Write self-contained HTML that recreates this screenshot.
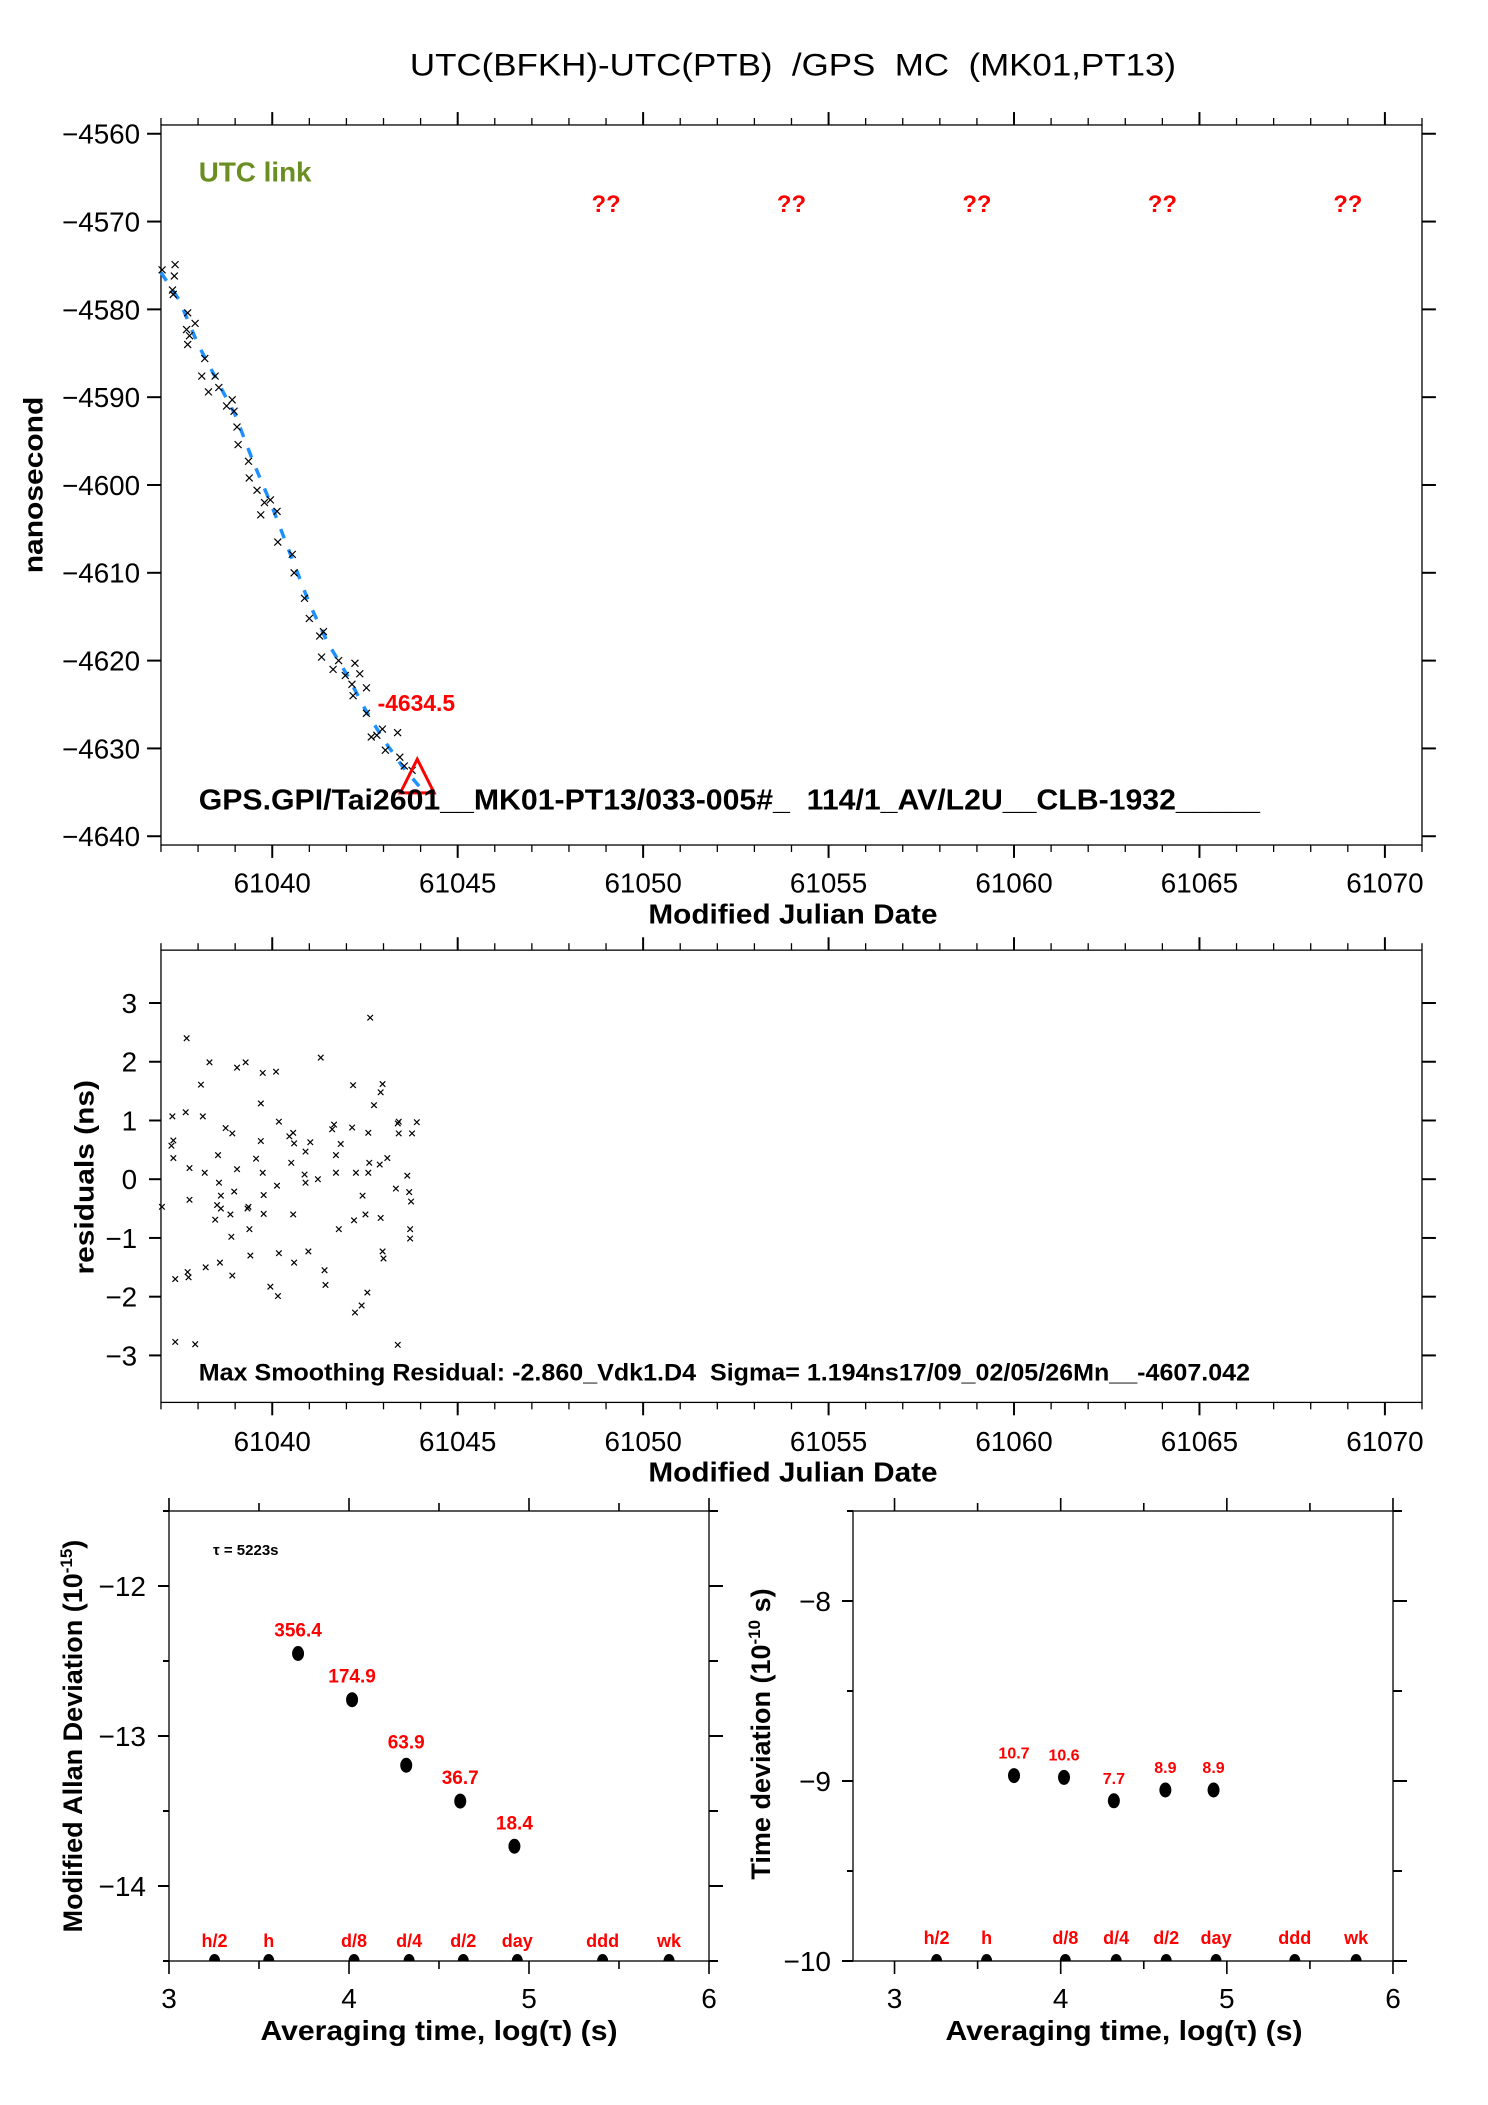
<!DOCTYPE html>
<html><head><meta charset="utf-8"><style>
html,body{margin:0;padding:0;background:#fff}
svg{display:block}
text{font-family:"Liberation Sans",Arial,sans-serif;white-space:pre}
</style></head><body>
<svg id="chart" width="1488" height="2105" viewBox="0 0 1488 2105" xmlns="http://www.w3.org/2000/svg">
<defs>
<clipPath id="clipA"><rect x="169" y="1511" width="540" height="450"/></clipPath>
<clipPath id="clipT"><rect x="853" y="1511" width="540" height="450"/></clipPath>
</defs>
<g id="top" transform="scale(0.9937,0.9918)"></g>
<g id="root"></g>
</svg>
<script>
// ---------- data: plot 1 (UTC link) ----------
const linkMjd = [61037.03,61037.31,61037.38,61037.36,61037.33,61037.72,61037.69,61037.77,61037.72,61037.92,61038.18,61038.10,61038.28,61038.46,61038.56,61038.77,61038.92,61038.97,61039.05,61039.08,61039.36,61039.38,61039.59,61039.69,61039.79,61039.95,61040.13,61040.15,61040.54,61040.59,61040.87,61041.00,61041.28,61041.38,61041.33,61041.64,61041.79,61041.97,61042.15,61042.23,61042.36,61042.18,61042.54,61042.54,61042.67,61042.82,61042.97,61043.05,61043.38,61043.44,61043.56,61043.77];
const linkVal = [-4575.5,-4577.8,-4574.9,-4576.2,-4578.3,-4580.4,-4582.3,-4583.0,-4584.0,-4581.6,-4585.6,-4587.6,-4589.4,-4587.6,-4588.9,-4591.0,-4590.3,-4591.6,-4593.4,-4595.4,-4597.3,-4599.2,-4600.6,-4603.4,-4602.0,-4601.7,-4603.0,-4606.5,-4607.9,-4610.0,-4612.9,-4615.2,-4617.2,-4616.7,-4619.6,-4621.0,-4620.0,-4621.7,-4622.7,-4620.3,-4621.5,-4624.0,-4623.1,-4626.0,-4628.7,-4628.5,-4627.8,-4630.2,-4628.2,-4631.0,-4632.0,-4632.5];
const trendMjd = [61037.0,61037.5,61038.0,61038.5,61039.0,61039.5,61040.0,61040.5,61041.0,61041.5,61042.0,61042.5,61043.0,61043.5,61044.0];
const trendVal = [-4575.8,-4579.0,-4584.0,-4588.0,-4592.0,-4597.5,-4602.5,-4608.0,-4613.5,-4618.0,-4621.5,-4625.5,-4629.0,-4632.0,-4634.5];
const qMjd = [61049,61054,61059,61064,61069];
const p1XTicks = [61040,61045,61050,61055,61060,61065,61070];
const p1YTicks = [-4560,-4570,-4580,-4590,-4600,-4610,-4620,-4630,-4640];
const lastMjd = 61043.91;
const lastVal = -4634.5;

// ---------- data: plot 2 (residuals) ----------
const resX = [172,183,182,184,184,186,186,198,197,199,200,201,201,207,213,215,217,218,222,228,230,231,232,233,234,234,239,244,245,246,246,248,251,251,260,262,263,264,265,271,276,276,278,279,279,278,286,292,293,294,295,295,306,308,310,311,311,310,322,323,323,326,328,336,339,343,344,351,353,355,355,358,360,372,373,374,375,376,382,383,386,388,389,389,390,391,395,401,402,402,404,404,405,409,418,420,420,421,421,430,432,433,433,434,435,440];
const resVal = [-0.47,1.07,0.57,0.66,0.36,-1.70,-2.77,2.40,1.14,-1.58,-1.67,-0.35,0.19,-2.81,1.61,1.07,0.11,-1.50,1.99,-0.69,-0.44,0.41,-0.06,-1.42,-0.28,-0.50,0.87,-0.60,-0.98,0.78,-1.64,-0.21,1.90,0.17,1.99,-0.50,-0.47,-0.85,-1.30,0.35,1.29,0.65,0.11,-0.59,-0.27,1.81,-1.83,1.83,-0.11,-1.99,0.98,-1.26,0.73,0.28,0.79,0.61,-1.42,-0.60,0.08,-0.06,0.47,-1.23,0.63,0.00,2.07,-1.55,-1.80,0.85,0.93,0.11,0.41,-0.85,0.60,0.88,1.60,-0.70,-2.27,0.11,-2.15,-0.28,-0.60,-1.93,0.11,0.79,0.28,2.75,1.26,0.25,1.48,-0.66,1.62,-1.23,-1.35,0.36,-0.16,-2.82,0.95,0.78,0.98,0.06,-0.22,-0.85,-1.01,-0.38,0.78,0.97];
const resYTicks = [3,2,1,0,-1,-2,-3];

// ---------- data: ADEV ----------
const adevLog = [3.717,4.017,4.318,4.618,4.919];
const adevVal = [-12.45,-12.758,-13.195,-13.434,-13.735];
const adevLbl = ["356.4","174.9","63.9","36.7","18.4"];
const tauLog = [3.253,3.554,4.028,4.334,4.635,4.935,5.409,5.778];
const tauLbl = ["h/2","h","d/8","d/4","d/2","day","ddd","wk"];
const adevYTicks = [-12,-13,-14];
// ---------- data: TDEV ----------
const tdevLog = [3.719,4.02,4.32,4.63,4.92];
const tdevVal = [-8.97,-8.98,-9.11,-9.05,-9.05];
const tdevLbl = ["10.7","10.6","7.7","8.9","8.9"];
const tdevYTicks = [-8,-9,-10];
const logTicks = [3,4,5,6];

const NS = "http://www.w3.org/2000/svg";
const root = document.getElementById('root');
const topG = document.getElementById('top');
function el(tag, attrs, parent, txt){
  const e = document.createElementNS(NS, tag);
  for (const k in attrs) e.setAttribute(k, attrs[k]);
  if (txt !== undefined) e.textContent = txt;
  (parent||root).appendChild(e);
  return e;
}
function lin(d0,d1,r0,r1){ return v => r0 + (v-d0)*(r1-r0)/(d1-d0); }
function cross(g,x,y,s){
  el('path',{d:`M${x-s},${y-s}L${x+s},${y+s}M${x-s},${y+s}L${x+s},${y-s}`,stroke:'#000','stroke-width':1.2,fill:'none'},g);
}

// title
let t = el('text',{x:798,y:76,'font-size':32,'text-anchor':'middle',textLength:771,lengthAdjust:'spacingAndGlyphs'},topG,'UTC(BFKH)-UTC(PTB)  /GPS  MC  (MK01,PT13)');



// ================= Plot 1 =================
(function(){
  const L=162,R=1431,T=126,B=852;
  const x = lin(61037,61071,L,R), y = lin(-4559,-4641,T,B);
  const g = el('g',{},topG);
  
  
  el('rect',{x:L,y:T,width:R-L,height:B-T,fill:'none',stroke:'#000','stroke-width':1.3},g);
  for(let m=61037;m<=61071;m++){
    const maj = m%5===0, len = maj?13:7, xx=x(m);
    el('line',{x1:xx,y1:T,x2:xx,y2:T-len,stroke:'#000','stroke-width':maj?2:1.3},g);
    el('line',{x1:xx,y1:B,x2:xx,y2:B+len,stroke:'#000','stroke-width':maj?2:1.3},g);
  }
  p1XTicks.forEach(v=>{
    const tl = el('text',{x:x(v),y:900,'font-size':28,'text-anchor':'middle'},g,String(v));
    
    
  });
  p1YTicks.forEach(v=>{
    const yy=y(v);
    el('line',{x1:L,y1:yy,x2:L-14,y2:yy,stroke:'#000','stroke-width':2},g);
    el('line',{x1:R,y1:yy,x2:R+14,y2:yy,stroke:'#000','stroke-width':2},g);
    const tl = el('text',{x:141,y:yy+10,'font-size':28,'text-anchor':'end'},g,'\u2212'+Math.abs(v));
    
    
  });
  const pts = trendMjd.map((m,i)=>x(m)+','+y(trendVal[i])).join(' ');
  const pl = el('polyline',{points:pts,fill:'none',stroke:'#1e90ff','stroke-width':3.5,'stroke-dasharray':'10,12'},g);
  
  
  const mg = el('g',{},g);
  
  
  linkMjd.forEach((m,i)=>cross(mg,x(m),y(linkVal[i]),3.5));
  qMjd.forEach(m=>{
    const q = el('text',{x:x(m),y:y(-4568)+8,'font-size':24,'font-weight':'bold',fill:'#ff0000','text-anchor':'middle'},g,'??');
    
    
  });
  const ul = el('text',{x:200,y:183,'font-size':28,'font-weight':'bold',fill:'#6b8e23'},g,'UTC link');
  
  
  const lv = el('text',{x:380,y:717,'font-size':23,'font-weight':'bold',fill:'#ff0000'},g,String(lastVal));
  
  
  const tx=x(lastMjd), by=y(lastVal)+5;
  const tri = el('path',{d:`M${tx},${by-34}L${tx-17},${by}L${tx+17},${by}Z`,fill:'none',stroke:'#ff0000','stroke-width':3},g);
  
  
  const inf = el('text',{x:200,y:816,'font-size':29,'font-weight':'bold',textLength:1068,lengthAdjust:'spacingAndGlyphs'},g,'GPS.GPI/Tai2601__MK01-PT13/033-005#_  114/1_AV/L2U__CLB-1932_____');
  
  
  const yl = el('text',{x:0,y:0,'font-size':27,'font-weight':'bold','text-anchor':'middle',transform:'translate(43,489) rotate(-90)',textLength:178,lengthAdjust:'spacingAndGlyphs'},g,'nanosecond');
  
  
  const xl = el('text',{x:798,y:931,'font-size':28,'font-weight':'bold','text-anchor':'middle',textLength:291,lengthAdjust:'spacingAndGlyphs'},g,'Modified Julian Date');
  
  
})();

// ================= Plot 2 =================
(function(){
  const L=162,R=1431,T=958,B=1414;
  const x = lin(61037,61071,L,R), y = lin(3.9,-3.8,T,B);
  const g = el('g',{},topG);
  
  
  el('rect',{x:L,y:T,width:R-L,height:B-T,fill:'none',stroke:'#000','stroke-width':1.3},g);
  for(let m=61037;m<=61071;m++){
    const maj = m%5===0, len = maj?13:7, xx=x(m);
    el('line',{x1:xx,y1:T,x2:xx,y2:T-len,stroke:'#000','stroke-width':maj?2:1.3},g);
    el('line',{x1:xx,y1:B,x2:xx,y2:B+len,stroke:'#000','stroke-width':maj?2:1.3},g);
  }
  p1XTicks.forEach(v=>{
    const tl = el('text',{x:x(v),y:1463,'font-size':28,'text-anchor':'middle'},g,String(v));
    
    
  });
  resYTicks.forEach(v=>{
    const yy=y(v);
    el('line',{x1:L,y1:yy,x2:L-12,y2:yy,stroke:'#000','stroke-width':2},g);
    el('line',{x1:R,y1:yy,x2:R+14,y2:yy,stroke:'#000','stroke-width':2},g);
    const tl = el('text',{x:138,y:yy+10,'font-size':28,'text-anchor':'end'},g,(v<0?'\u2212':'')+Math.abs(v));
    
    
  });
  const mg = el('g',{},g);
  
  
  resX.forEach((px,i)=>{
    const m = 61040 + (px-288)/39;
    cross(mg,x(m),y(resVal[i]),2.8);
  });
  const inf = el('text',{x:200,y:1392,'font-size':24,'font-weight':'bold',textLength:1058,lengthAdjust:'spacingAndGlyphs'},g,'Max Smoothing Residual: -2.860_Vdk1.D4  Sigma= 1.194ns17/09_02/05/26Mn__-4607.042');
  
  
  const yl = el('text',{x:0,y:0,'font-size':27,'font-weight':'bold','text-anchor':'middle',transform:'translate(94,1187) rotate(-90)',textLength:196,lengthAdjust:'spacingAndGlyphs'},g,'residuals (ns)');
  
  
  const xl = el('text',{x:798,y:1494,'font-size':28,'font-weight':'bold','text-anchor':'middle',textLength:291,lengthAdjust:'spacingAndGlyphs'},g,'Modified Julian Date');
  
  
})();

// ================= Lower plots =================
function devPlot(o){
  const {L,R,T,B,x0,x1,y0,y1,ticks,yLblX,clip,name} = o;
  const x = lin(x0,x1,L,R), y = lin(y1,y0,T,B);
  const g = el('g',{});
  
  
  el('rect',{x:L,y:T,width:R-L,height:B-T,fill:'none',stroke:'#000','stroke-width':1.3},g);
  for(let v=3;v<=6.001;v+=0.5){
    const xx=x(v), maj=Math.abs(v-Math.round(v))<0.01, len=maj?13:8;
    el('line',{x1:xx,y1:T,x2:xx,y2:T-len,stroke:'#000','stroke-width':1.6},g);
    el('line',{x1:xx,y1:B,x2:xx,y2:B+len,stroke:'#000','stroke-width':1.6},g);
  }
  logTicks.forEach(v=>{
    const tl = el('text',{x:x(v),y:2008,'font-size':28,'text-anchor':'middle'},g,String(v));
    
    
  });
  for(let v=y0; v<=y1+0.001; v+=0.5){
    const yy=y(v), maj=Math.abs(v-Math.round(v))<0.01, len=maj?11:6;
    el('line',{x1:L,y1:yy,x2:L-len,y2:yy,stroke:'#000','stroke-width':2},g);
    el('line',{x1:R,y1:yy,x2:R+len+3,y2:yy,stroke:'#000','stroke-width':2},g);
  }
  ticks.forEach(v=>{
    const tl = el('text',{x:yLblX,y:y(v)+10,'font-size':28,'text-anchor':'end'},g,'\u2212'+Math.abs(v));
    
    
  });
  const pg = el('g',{},g);
  
  
  o.xs.forEach((v,i)=>{
    el('ellipse',{cx:x(v),cy:y(o.ys[i]),rx:6,ry:7.5,fill:'#000'},pg);
    const lb = el('text',{x:x(v),y:y(o.ys[i])-o.lblOff,'font-size':o.lblSize,'font-weight':'bold',fill:'#ff0000','text-anchor':'middle'},pg,o.lbls[i]);
    
    
  });
  const tg = el('g',{'clip-path':`url(#${clip})`},g);
  
  
  tauLog.forEach(v=>el('ellipse',{cx:x(v),cy:B,rx:5.5,ry:7,fill:'#000'},tg));
  tauLog.forEach((v,i)=>{
    const lb = el('text',{x:x(v),y:o.tauY,'font-size':18,'font-weight':'bold',fill:'#ff0000','text-anchor':'middle'},g,tauLbl[i]);
    
    
  });
  const xl = el('text',{x:o.xtX,y:2040,'font-size':28,'font-weight':'bold','text-anchor':'middle',textLength:357,lengthAdjust:'spacingAndGlyphs'},g,'Averaging time, log(\u03c4) (s)');
  
  
  return {g,x,y};
}

const A = devPlot({name:'allan-deviation-plot',L:169,R:709,T:1511,B:1961,x0:3,x1:6,y0:-14.5,y1:-11.5,ticks:adevYTicks,yLblX:146,clip:'clipA',
  xs:adevLog,ys:adevVal,lbls:adevLbl,lblOff:17,lblSize:19,tauY:1947,xtX:439});
const at = el('text',{x:213,y:1555,'font-size':15,'font-weight':'bold'},A.g,'\u03c4 = 5223s');


const ayl = el('text',{x:0,y:0,'font-size':27,'font-weight':'bold','text-anchor':'middle',transform:'translate(82,1736) rotate(-90)'},A.g);


el('tspan',{},ayl,'Modified Allan Deviation (10');
el('tspan',{'font-size':17,dy:-10},ayl,'-15');
el('tspan',{dy:10},ayl,')');

const Tp = devPlot({name:'time-deviation-plot',L:853,R:1393,T:1511,B:1961,x0:2.75,x1:6,y0:-10,y1:-7.5,ticks:tdevYTicks,yLblX:831,clip:'clipT',
  xs:tdevLog,ys:tdevVal,lbls:tdevLbl,lblOff:17,lblSize:16,tauY:1944,xtX:1124});
const tyl = el('text',{x:0,y:0,'font-size':27,'font-weight':'bold','text-anchor':'middle',transform:'translate(770,1734) rotate(-90)'},Tp.g);


el('tspan',{},tyl,'Time deviation (10');
el('tspan',{'font-size':17,dy:-10},tyl,'-10');
el('tspan',{dy:10},tyl,' s)');
</script>
</body></html>
